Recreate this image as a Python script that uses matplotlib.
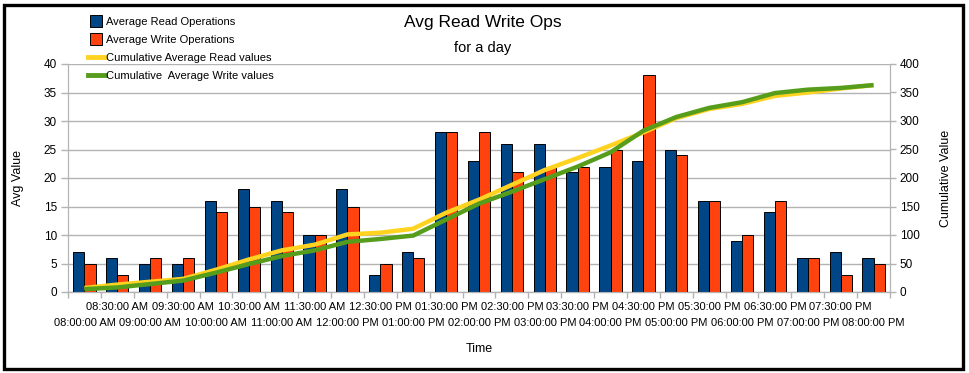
import numpy as np
import matplotlib
matplotlib.use('Agg')
import matplotlib.pyplot as plt
from matplotlib.lines import Line2D
from matplotlib.patches import Rectangle

plt.rcParams['font.family'] = ['Liberation Sans', 'DejaVu Sans']

times = ['08:00:00 AM', '08:30:00 AM', '09:00:00 AM', '09:30:00 AM', '10:00:00 AM',
         '10:30:00 AM', '11:00:00 AM', '11:30:00 AM', '12:00:00 PM', '12:30:00 PM',
         '01:00:00 PM', '01:30:00 PM', '02:00:00 PM', '02:30:00 PM', '03:00:00 PM',
         '03:30:00 PM', '04:00:00 PM', '04:30:00 PM', '05:00:00 PM', '05:30:00 PM',
         '06:00:00 PM', '06:30:00 PM', '07:00:00 PM', '07:30:00 PM', '08:00:00 PM']
avg_read = [7, 6, 5, 5, 16, 18, 16, 10, 18, 3, 7, 28, 23, 26, 26, 21, 22, 23, 25,
            16, 9, 14, 6, 7, 6]
avg_write = [5, 3, 6, 6, 14, 15, 14, 10, 15, 5, 6, 28, 28, 21, 22, 22, 25, 38, 24,
             16, 10, 16, 6, 3, 5]
cum_read = [7, 13, 18, 23, 39, 57, 73, 83, 101, 104, 111, 139, 162, 188, 214, 235,
            257, 280, 305, 321, 330, 344, 350, 357, 363]
cum_write = [5, 8, 14, 20, 34, 49, 63, 73, 88, 93, 99, 127, 155, 176, 198, 220, 245,
             283, 307, 323, 333, 349, 355, 358, 363]

BLUE, RED, YELLOW, GREEN = '#004586', '#ff420e', '#ffd320', '#579d1c'
GRID = '#b3b3b3'

fig = plt.figure(figsize=(9.69, 3.73), dpi=100)
ax = fig.add_axes([68/969, 1 - 292/373, 822/969, 228/373])
ax2 = ax.twinx()

x = np.arange(len(times))
w = 0.34
ax.bar(x - w/2, avg_read, w, color=BLUE, edgecolor='black', linewidth=0.7, zorder=3)
ax.bar(x + w/2, avg_write, w, color=RED, edgecolor='black', linewidth=0.7, zorder=3)

ax2.plot(x, cum_read, color=YELLOW, lw=3.2, solid_capstyle='butt', zorder=4)
ax2.plot(x, cum_write, color=GREEN, lw=3.2, solid_capstyle='butt', zorder=5)

ax.set_xlim(-0.5, len(times) - 0.5)
ax.set_ylim(0, 40)
ax2.set_ylim(0, 400)
ax.set_yticks(np.arange(0, 41, 5))
ax2.set_yticks(np.arange(0, 401, 50))
ax.grid(axis='y', color=GRID, lw=1, zorder=0)
ax.set_axisbelow(True)

# staggered category labels: odd slots on the upper row, even slots below
odd = x[1::2]
even = x[0::2]
ax.set_xticks(odd)
ax.set_xticklabels([times[i] for i in odd], fontsize=8)
ax.set_xticks(even, minor=True)
ax.set_xticklabels([times[i] for i in even], minor=True, fontsize=8)
ax.tick_params(axis='x', which='major', length=0, pad=7.5)
ax.tick_params(axis='x', which='minor', length=0, pad=18.5)

# category boundary ticks
sec = ax.secondary_xaxis('bottom')
sec.set_xticks(np.arange(-0.5, len(times), 1))
sec.tick_params(length=4, color=GRID, width=1, labelbottom=False)
sec.spines['bottom'].set_color(GRID)

ax.tick_params(axis='y', length=5, color=GRID, width=1, labelsize=8.5, pad=3)
ax2.tick_params(axis='y', length=4, color=GRID, width=1, labelsize=8.5, pad=3)

for a in (ax, ax2):
    a.spines['top'].set_visible(False)
    for s in ('left', 'right', 'bottom'):
        a.spines[s].set_color(GRID)

ax.set_xlabel('Time', fontsize=9)
ax.xaxis.set_label_coords(0.5, -0.222)
ax.set_ylabel('Avg Value', fontsize=9)
ax.yaxis.set_label_coords(-0.053, 0.5)
ax2.set_ylabel('Cumulative Value', fontsize=9)
ax2.yaxis.set_label_coords(1.061, 0.5)

fig.text(0.4985, 1 - 22/373, 'Avg Read Write Ops', fontsize=12.5, ha='center', va='center')
fig.text(0.4985, 1 - 48/373, 'for a day', fontsize=10.5, ha='center', va='center')

handles = [Line2D([], [], ls='none', marker='s', markersize=8, markerfacecolor=BLUE,
                  markeredgecolor='black', markeredgewidth=0.7),
           Line2D([], [], ls='none', marker='s', markersize=8, markerfacecolor=RED,
                  markeredgecolor='black', markeredgewidth=0.7),
           Line2D([], [], color=YELLOW, lw=3.5),
           Line2D([], [], color=GREEN, lw=3.5)]
names = ['Average Read Operations', 'Average Write Operations',
         'Cumulative Average Read values', 'Cumulative  Average Write values']
fig.legend(handles, names, loc='upper left', bbox_to_anchor=(88/969, 1 - 17/373),
           frameon=False, fontsize=8, handlelength=1.5, handletextpad=0.1,
           labelspacing=0.72, borderpad=0, borderaxespad=0)

fig.patches.append(Rectangle((4/969, 4/373), 959/969, 364/373, transform=fig.transFigure,
                             fill=False, edgecolor='black', lw=2.4, zorder=10))

fig.savefig('out.png', dpi=100, facecolor='white')
